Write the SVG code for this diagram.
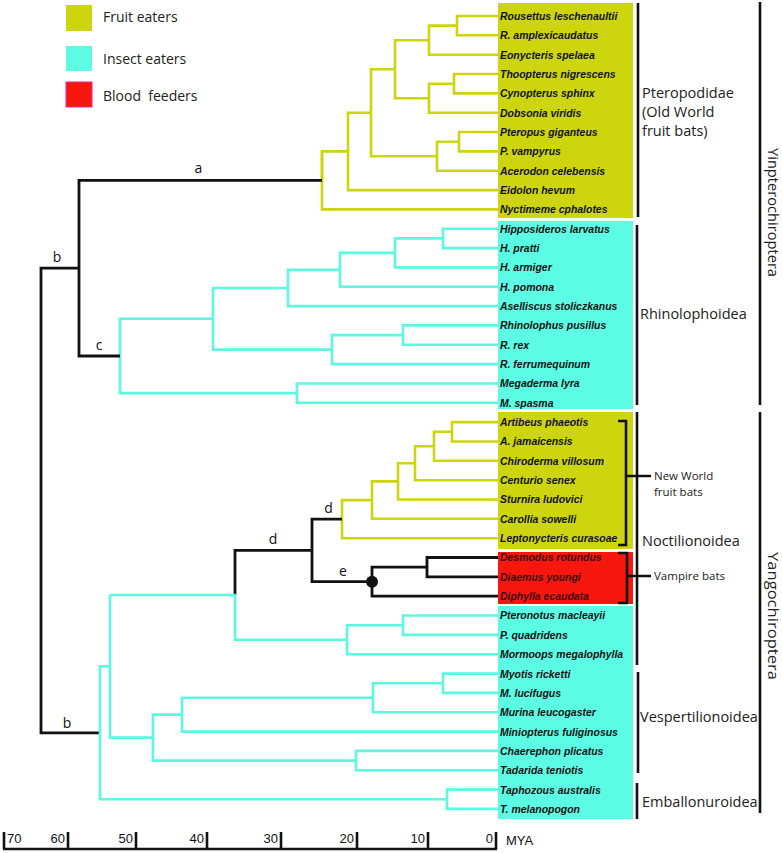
<svg xmlns="http://www.w3.org/2000/svg" width="782" height="853" viewBox="0 0 782 853">
<style>
.bg{fill:#ffffff}
.fy{fill:#cdd50f}
.fc{fill:#5cfce4}
.fr{fill:#f7170e}
.ty{fill:none;stroke:#cdd50f;stroke-width:2.6}
.tc{fill:none;stroke:#5cf8e2;stroke-width:2.6}
.tk{fill:none;stroke:#111;stroke-width:2.8}
.br{fill:none;stroke:#111;stroke-width:2.6}
.sp{font-family:"Liberation Sans",Arial,sans-serif;font-weight:bold;font-style:italic;font-size:11.5px;fill:#111}
.spr{fill:#3a0805}
.lg{font-family:"Open Sans","Noto Sans",sans-serif;font-size:14px;fill:#222}
.cl{font-family:"Open Sans","Noto Sans",sans-serif;font-size:14.5px;fill:#222}
.sm{font-family:"Open Sans","Noto Sans",sans-serif;font-size:11.5px;fill:#222}
.bl{font-family:"Open Sans","Noto Sans",sans-serif;font-size:14px;fill:#111;text-anchor:middle}
.ax{font-family:"Liberation Sans",Arial,sans-serif;font-size:13px;fill:#111}
</style>
<rect class="bg" x="0" y="0" width="782" height="853"/>

<g id="legend">
  <g id="legend-fruit"><rect class="fy" x="66" y="5" width="26" height="26"/><text class="lg" x="103" y="22">Fruit eaters</text></g>
  <g id="legend-insect"><rect class="fc" x="66" y="46" width="26" height="25"/><text class="lg" x="103" y="64">Insect eaters</text></g>
  <g id="legend-blood"><rect class="fr" x="66" y="82" width="26" height="25" stroke="#e8289c" stroke-width="1"/><text class="lg" x="103" y="101" xml:space="preserve">Blood  feeders</text></g>
</g>

<g id="boxes">
  <rect class="fy" x="498" y="3" width="135" height="215"/>
  <rect class="fc" x="498" y="221" width="135" height="188"/>
  <rect class="fy" x="498" y="412" width="135" height="137"/>
  <rect class="fr" x="498" y="552" width="135" height="52"/>
  <rect class="fc" x="498" y="606" width="135" height="213"/>
</g>

<g id="connectors">
  <path class="ty" d="M498,16 H457 V35.3 H498"/>
  <path class="ty" d="M457,25.65 H429 V54.7 H498"/>
  <path class="ty" d="M498,74 H454 V93.4 H498"/>
  <path class="ty" d="M454,83.7 H429 V112.7 H498"/>
  <path class="ty" d="M429,40.2 H395 V98.2 H429"/>
  <path class="ty" d="M498,132 H459 V151.4 H498"/>
  <path class="ty" d="M459,141.7 H437 V170.7 H498"/>
  <path class="ty" d="M395,69.2 H371 V156.2 H437"/>
  <path class="ty" d="M371,112.7 H348 V190.1 H498"/>
  <path class="ty" d="M348,151.4 H322 V209.4 H498"/>
  <path class="ty" d="M322,180.4 V151.4"/>
  <path class="tc" d="M498,228.7 H443 V248.1 H498"/>
  <path class="tc" d="M443,238.4 H395 V267.4 H498"/>
  <path class="tc" d="M395,252.9 H340 V286.8 H498"/>
  <path class="tc" d="M340,269.85 H288 V306.1 H498"/>
  <path class="tc" d="M498,325.4 H403 V344.8 H498"/>
  <path class="tc" d="M403,335.1 H332 V364.1 H498"/>
  <path class="tc" d="M288,288 H213 V349.6 H332"/>
  <path class="tc" d="M498,383.5 H297 V402.8 H498"/>
  <path class="tc" d="M213,318.8 H120 V393.15 H297"/>
  <path class="tk" d="M322,180.4 H79 V356 H120"/>
  <path class="tk" d="M79,268.2 H41 V732.8 H100"/>
  <path class="ty" d="M498,422.1 H452 V441.5 H498"/>
  <path class="ty" d="M452,431.8 H434 V460.8 H498"/>
  <path class="ty" d="M434,446.3 H415 V480.2 H498"/>
  <path class="ty" d="M415,463.25 H398 V499.5 H498"/>
  <path class="ty" d="M398,481.4 H372 V518.8 H498"/>
  <path class="ty" d="M372,500.1 H342 V538.2 H498"/>
  <path class="tk" d="M498,557.5 H427 V576.9 H498"/>
  <path class="tk" d="M427,567.2 H372 V596.2 H498"/>
  <path class="tk" d="M342,519.15 H312 V581.7 H372"/>
  <path class="tk" d="M312,550.4 H235 V595.05"/>
  <circle cx="372" cy="581.7" r="6" fill="#111"/>
  <path class="tc" d="M498,615.5 H403 V634.9 H498"/>
  <path class="tc" d="M403,625.2 H347 V654.2 H498"/>
  <path class="tc" d="M347,639.7 H235 V595.05 H110"/>
  <path class="tc" d="M498,673.6 H443 V692.9 H498"/>
  <path class="tc" d="M443,683.25 H373 V712.2 H498"/>
  <path class="tc" d="M373,697.7 H182 V731.6 H498"/>
  <path class="tc" d="M498,750.9 H356 V770.3 H498"/>
  <path class="tc" d="M182,714.65 H153 V760.6 H356"/>
  <path class="tc" d="M110,595.05 V737.6 H153"/>
  <path class="tc" d="M498,789.6 H447 V808.9 H498"/>
  <path class="tc" d="M110,666.3 H100 V799.25 H447"/>
  <path class="br" d="M638,3 V217"/>
  <path class="br" d="M637,225 V405"/>
  <path class="br" d="M637,412 V665"/>
  <path class="br" d="M638,672 V773"/>
  <path class="br" d="M637,783 V819"/>
  <path class="br" d="M760,2 V405"/>
  <path class="br" d="M760,412 V813"/>
  <path class="br" d="M618,421 H626 V545 H618 M626,476 H651"/>
  <path class="br" d="M618,553 H627 V603 H618 M627,576 H651"/>
</g>

<g id="branch-labels">
  <text class="bl" x="198.5" y="173">a</text>
  <text class="bl" x="57" y="262">b</text>
  <text class="bl" x="99" y="350">c</text>
  <text class="bl" x="328.5" y="513">d</text>
  <text class="bl" x="273" y="544">d</text>
  <text class="bl" x="343" y="576">e</text>
  <text class="bl" x="67" y="728">b</text>
</g>

<g id="species" transform="translate(500,0) scale(0.91,1)">
  <g id="sp01"><text class="sp" x="0" y="20">Rousettus leschenaultii</text></g>
  <g id="sp02"><text class="sp" x="0" y="39.3">R. amplexicaudatus</text></g>
  <g id="sp03"><text class="sp" x="0" y="58.7">Eonycteris spelaea</text></g>
  <g id="sp04"><text class="sp" x="0" y="78">Thoopterus nigrescens</text></g>
  <g id="sp05"><text class="sp" x="0" y="97.4">Cynopterus sphinx</text></g>
  <g id="sp06"><text class="sp" x="0" y="116.7">Dobsonia viridis</text></g>
  <g id="sp07"><text class="sp" x="0" y="136">Pteropus giganteus</text></g>
  <g id="sp08"><text class="sp" x="0" y="155.4">P. vampyrus</text></g>
  <g id="sp09"><text class="sp" x="0" y="174.7">Acerodon celebensis</text></g>
  <g id="sp10"><text class="sp" x="0" y="194.1">Eidolon hevum</text></g>
  <g id="sp11"><text class="sp" x="0" y="213.4">Nyctimeme cphalotes</text></g>
  <g id="sp12"><text class="sp" x="0" y="232.7">Hipposideros larvatus</text></g>
  <g id="sp13"><text class="sp" x="0" y="252.1">H. pratti</text></g>
  <g id="sp14"><text class="sp" x="0" y="271.4">H. armiger</text></g>
  <g id="sp15"><text class="sp" x="0" y="290.8">H. pomona</text></g>
  <g id="sp16"><text class="sp" x="0" y="310.1">Aselliscus stoliczkanus</text></g>
  <g id="sp17"><text class="sp" x="0" y="329.4">Rhinolophus pusillus</text></g>
  <g id="sp18"><text class="sp" x="0" y="348.8">R. rex</text></g>
  <g id="sp19"><text class="sp" x="0" y="368.1">R. ferrumequinum</text></g>
  <g id="sp20"><text class="sp" x="0" y="387.5">Megaderma lyra</text></g>
  <g id="sp21"><text class="sp" x="0" y="406.8">M. spasma</text></g>
  <g id="sp22"><text class="sp" x="0" y="426.1">Artibeus phaeotis</text></g>
  <g id="sp23"><text class="sp" x="0" y="445.5">A. jamaicensis</text></g>
  <g id="sp24"><text class="sp" x="0" y="464.8">Chiroderma villosum</text></g>
  <g id="sp25"><text class="sp" x="0" y="484.2">Centurio senex</text></g>
  <g id="sp26"><text class="sp" x="0" y="503.5">Sturnira ludovici</text></g>
  <g id="sp27"><text class="sp" x="0" y="522.8">Carollia sowelli</text></g>
  <g id="sp28"><text class="sp" x="0" y="542.2">Leptonycteris curasoae</text></g>
  <g id="sp29"><text class="sp spr" x="0" y="561.5">Desmodus rotundus</text></g>
  <g id="sp30"><text class="sp spr" x="0" y="580.9">Diaemus youngi</text></g>
  <g id="sp31"><text class="sp spr" x="0" y="600.2">Diphylla ecaudata</text></g>
  <g id="sp32"><text class="sp" x="0" y="619.5">Pteronotus macleayii</text></g>
  <g id="sp33"><text class="sp" x="0" y="638.9">P. quadridens</text></g>
  <g id="sp34"><text class="sp" x="0" y="658.2">Mormoops megalophylla</text></g>
  <g id="sp35"><text class="sp" x="0" y="677.6">Myotis ricketti</text></g>
  <g id="sp36"><text class="sp" x="0" y="696.9">M. lucifugus</text></g>
  <g id="sp37"><text class="sp" x="0" y="716.2">Murina leucogaster</text></g>
  <g id="sp38"><text class="sp" x="0" y="735.6">Miniopterus fuliginosus</text></g>
  <g id="sp39"><text class="sp" x="0" y="754.9">Chaerephon plicatus</text></g>
  <g id="sp40"><text class="sp" x="0" y="774.3">Tadarida teniotis</text></g>
  <g id="sp41"><text class="sp" x="0" y="793.6">Taphozous australis</text></g>
  <g id="sp42"><text class="sp" x="0" y="812.9">T. melanopogon</text></g>
</g>

<g id="clade-labels">
  <g id="pteropodidae"><text class="cl" x="642" y="98">Pteropodidae</text><text class="cl" x="642" y="117">(Old World</text><text class="cl" x="642" y="136">fruit bats)</text></g>
  <g id="rhinolophoidea"><text class="cl" x="640" y="319">Rhinolophoidea</text></g>
  <g id="nwfb"><text class="sm" x="654" y="480">New World</text><text class="sm" x="654" y="496">fruit bats</text></g>
  <g id="noctilionoidea"><text class="cl" x="642" y="546">Noctilionoidea</text></g>
  <g id="vampire"><text class="sm" x="654" y="580">Vampire bats</text></g>
  <g id="vespertilionoidea"><text class="cl" x="640" y="722">Vespertilionoidea</text></g>
  <g id="emballonuroidea"><text class="cl" x="642" y="807">Emballonuroidea</text></g>
  <g id="yinptero"><text class="cl" transform="translate(768,212.5) rotate(90)" x="0" y="0" text-anchor="middle" font-size="15" textLength="129" lengthAdjust="spacingAndGlyphs">Yinpterochiroptera</text></g>
  <g id="yango"><text class="cl" transform="translate(768,616) rotate(90)" x="0" y="0" text-anchor="middle" font-size="15" textLength="128" lengthAdjust="spacingAndGlyphs">Yangochiroptera</text></g>
</g>

<g id="axis">
  <path class="br" d="M3,849 H497 M4,832 V849 M68,832 V849 M136,832 V849 M207,832 V849 M281,832 V849 M357,832 V849 M428,832 V849 M496,832 V849" stroke-width="2.4"/>
  <text class="ax" x="7" y="843">70</text>
  <text class="ax" x="65" y="843" text-anchor="end">60</text>
  <text class="ax" x="133" y="843" text-anchor="end">50</text>
  <text class="ax" x="204" y="843" text-anchor="end">40</text>
  <text class="ax" x="278" y="843" text-anchor="end">30</text>
  <text class="ax" x="354" y="843" text-anchor="end">20</text>
  <text class="ax" x="425" y="843" text-anchor="end">10</text>
  <text class="ax" x="493" y="843" text-anchor="end">0</text>
  <text class="ax" x="506" y="845" font-size="10">MYA</text>
</g>
</svg>
